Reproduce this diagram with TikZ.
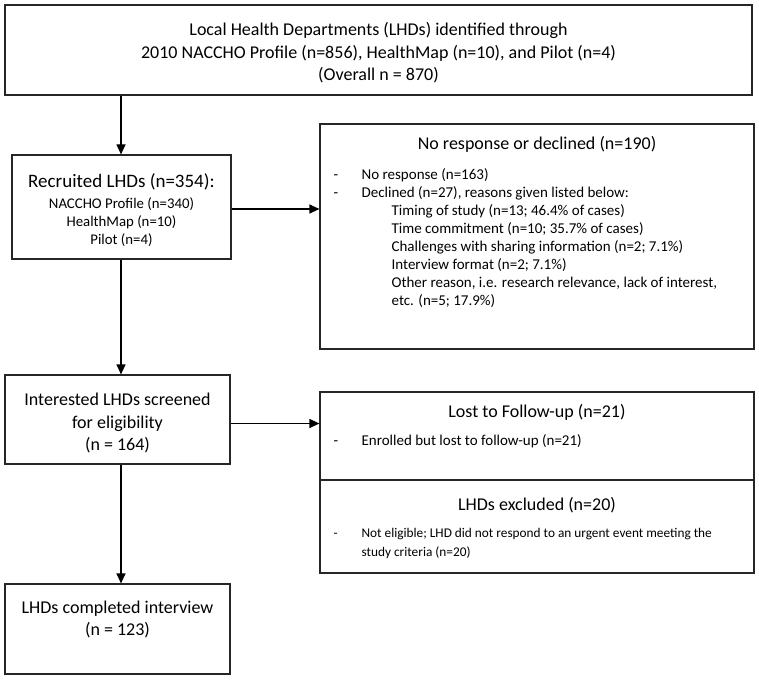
\documentclass[tikz,border=0pt]{standalone}
\usepackage{fontspec}
\setmainfont{Carlito}
\usetikzlibrary{arrows.meta,positioning}

\tikzset{
  box/.style={draw=black!85, line width=1.2pt, rectangle, inner sep=0pt},
  big/.style={font=\fontsize{18}{22.5}\selectfont, inner sep=0pt, align=center},
  listtext/.style={font=\fontsize{15}{18}\selectfont, inner sep=0pt, anchor=north west, align=left},
  link/.style={-{Triangle[length=10pt,width=9pt]}, line width=1.2pt, draw=black},
}

\begin{document}
\begin{tikzpicture}[x=1pt,y=-1pt]
\useasboundingbox (0,0) rectangle (759,679);

% left column
\node[box, minimum width=747pt, minimum height=90pt] (ident) at (378.5,50) {};
\node[big] (identtext) at ([yshift=-3pt]ident.center)
  {Local Health Departments (LHDs) identified through\\
   2010 NACCHO Profile (n=856), HealthMap (n=10), and Pilot (n=4)\\
   (Overall n = 870)};

\node[box, minimum width=219pt, minimum height=104pt] (recr) at (121.5,207) {};
\node[big, font=\fontsize{14.8}{18}\selectfont] (recrtext) at ([yshift=-3pt]recr.center)
  {{\fontsize{19}{21}\selectfont Recruited LHDs (n=354):}\\[3pt]
   NACCHO Profile (n=340)\\
   HealthMap (n=10)\\
   Pilot (n=4)};

\node[box, minimum width=225pt, minimum height=89pt] (screen) at (117.5,419.5) {};
\node[big] (screentext) at ([yshift=-3.5pt]screen.center)
  {Interested LHDs screened\\ for eligibility\\ (n = 164)};

\node[box, minimum width=225pt, minimum height=90pt] (done) at (117.5,629) {};
\node[big, anchor=north] (donetext) at ([yshift=-17pt]done.north)
  {LHDs completed interview\\ (n = 123)};

% right column
\node[box, minimum width=434pt, minimum height=225pt] (decl) at (537,236.5) {};
\node[big, below=12.5pt of decl.north] (declt) {No response or declined (n=190)};
\node[listtext] (declist) at ([shift={(14pt,-43pt)}]decl.north west)
  {\begin{tabular}{@{}p{28pt}@{}l@{}}
   - & No response (n=163)\\
   - & Declined (n=27), reasons given listed below:\\
     & \hspace{30pt}Timing of study (n=13; 46.4\% of cases)\\
     & \hspace{30pt}Time commitment (n=10; 35.7\% of cases)\\
     & \hspace{30pt}Challenges with sharing information (n=2; 7.1\%)\\
     & \hspace{30pt}Interview format (n=2; 7.1\%)\\
     & \hspace{30pt}Other reason, i.e. research relevance, lack of interest,\\
     & \hspace{30pt}etc. (n=5; 17.9\%)
   \end{tabular}};

\node[box, minimum width=434pt, minimum height=88pt] (lost) at (537,436) {};
\node[big, below=12.5pt of lost.north] (lostt) {Lost to Follow-up (n=21)};
\node[listtext] (lostlist) at ([shift={(14pt,-41pt)}]lost.north west)
  {\begin{tabular}{@{}p{28pt}@{}l@{}}
   - & Enrolled but lost to follow-up (n=21)
   \end{tabular}};

\node[box, minimum width=434pt, minimum height=93pt] (excl) at (537,526.5) {};
\node[big, below=18pt of excl.north] (exclt) {LHDs excluded (n=20)};
\node[listtext, font=\fontsize{13.3}{19}\selectfont] (excllist) at ([shift={(14pt,-45pt)}]excl.north west)
  {\begin{tabular}{@{}p{28pt}@{}l@{}}
   - & Not eligible; LHD did not respond to an urgent event meeting the\\
     & study criteria (n=20)
   \end{tabular}};

% arrows
\coordinate (spine) at (121,0);
\draw[link] (ident.south -| spine) -- (recr.north -| spine);
\draw[link] (recr.south -| spine) -- (screen.north -| spine);
\draw[link] (screen.south -| spine) -- (done.north -| spine);
\draw[link] ([yshift=-2pt]recr.east) -- ([yshift=-2pt]recr.east -| decl.west);
\draw[link] ([yshift=-4pt]screen.east) -- ([yshift=-4pt]screen.east -| lost.west);
\end{tikzpicture}
\end{document}
